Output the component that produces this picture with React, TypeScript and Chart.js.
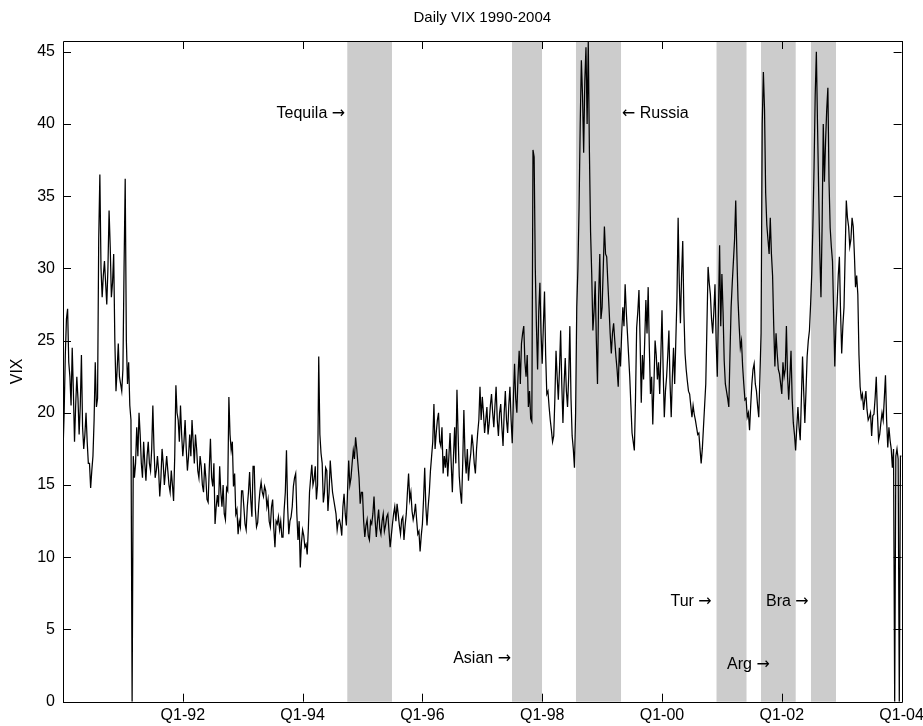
import React, { useEffect, useRef } from "react";
import { Chart, registerables } from "chart.js";

Chart.register(...registerables);

// ---- data (52 readings per year) ----
const years = [1990, 1991, 1992, 1993, 1994, 1995, 1996, 1997, 1998, 1999, 2000, 2001, 2002, 2003, 2004];
const stepsPerYear = 52;

const vix1990 = [17.3, 20, 24, 26.5, 27.2, 23.5, 22.5, 20.5, 24.5, 21.5, 18, 20.5, 22.5, 21, 18.5, 20.5, 24, 19, 17.5, 18.5, 20, 18, 16.5, 16.5, 14.8, 16, 17, 19.5, 23.5, 20.4, 21, 32, 36.5, 30, 28, 29.5, 30.5, 29, 27.5, 30, 34, 31.5, 28, 29, 31, 25, 21.5, 23, 24.8, 22.5, 22, 21.5];
const vix1991 = [23, 30, 36.2, 25, 22, 23.5, 20.5, 19.5, 0, 17, 15.5, 16.5, 19, 17, 20, 18.5, 16.5, 15.5, 18, 16.5, 15.3, 17, 18, 16.5, 16, 17.5, 20.5, 17.5, 15.5, 16, 17, 16, 14.2, 15.5, 17.5, 16.5, 15, 16, 17, 16, 15, 14.5, 16, 15, 13.9, 17, 21.9, 20, 19.5, 18, 20.5, 18.5];
const vix1992 = [17, 18, 19.5, 17.5, 16, 17, 18.5, 17, 19.5, 18, 16.5, 18.5, 17.5, 16, 15.5, 17, 16.3, 15, 14.5, 16.5, 15.5, 14, 13.8, 16.2, 18.2, 15.5, 14.9, 16.5, 12.3, 13.5, 14.3, 13.5, 16.3, 14.5, 13.5, 15, 13, 12.6, 14.8, 14.6, 21.1, 18.5, 17.4, 18, 14.9, 15.8, 13, 13.3, 11.6, 12.5, 12.1, 14.6];
const vix1993 = [14.6, 13.5, 12.3, 11.9, 13.5, 14.5, 15.9, 14, 12.8, 16.3, 16.3, 13.3, 12.1, 12.4, 13.7, 14.6, 15.2, 14.5, 14.2, 14.9, 14.6, 13.5, 14, 12.5, 12.1, 13.5, 14, 12, 10.7, 12.5, 12.3, 12.8, 11.9, 12.5, 11.4, 11.4, 13.3, 14.5, 17.4, 13.5, 11.6, 12.5, 12.8, 13.5, 14.9, 15.5, 15.8, 13, 11.2, 12.5, 9.3, 11];
const vix1994 = [11.9, 11.5, 10.7, 10.9, 10.2, 12, 14.5, 15.5, 16.4, 15, 15.4, 16.3, 14, 15, 23.9, 18.5, 17.2, 16.5, 13.8, 14.5, 16.2, 16, 13.2, 14.5, 16.7, 15.5, 14.5, 14, 13.5, 13, 11.9, 12.5, 12.6, 12.2, 11.5, 13.5, 14.4, 13, 12.2, 14.5, 16.7, 15, 15.5, 16.5, 17.4, 16.8, 18.3, 17.5, 16.5, 15.5, 13.7, 14.5];
const vix1995 = [14.5, 12.5, 11.4, 12.2, 12.6, 11.5, 11.2, 12.5, 12.3, 13, 14.2, 12.5, 11.4, 12.5, 13.3, 12, 11.6, 12.5, 13.0, 11.8, 12.2, 12.8, 13.0, 11.8, 10.7, 11.5, 12.3, 13, 13.5, 12.5, 13.7, 13, 12.2, 11.6, 12.6, 12.8, 11.2, 12.2, 13.0, 14.5, 15.8, 14, 14.5, 13.2, 12.6, 13, 13.7, 12.6, 11.6, 11.8, 10.4, 11.5];
const vix1996 = [12.3, 14, 16.2, 13.5, 12.2, 13.5, 14.5, 16, 17.0, 18, 20.6, 17.5, 18.6, 19.5, 20.0, 18, 17.7, 19, 15.8, 17, 16.2, 17.5, 15.6, 17, 18.6, 16.5, 14.5, 17, 19.0, 16.5, 21.6, 18.5, 15.6, 14.5, 13.7, 16.5, 20.2, 17, 15.8, 17.5, 15.3, 16.5, 17.2, 18.5, 17.7, 16.5, 15.8, 17.5, 18.6, 19.5, 21.8, 19.5];
const vix1997 = [21.1, 20, 18.6, 19.5, 20.4, 18.5, 19.3, 20.5, 21.3, 20, 19.0, 20.5, 21.8, 19.5, 18.4, 20, 20.6, 19, 17.7, 20, 21.5, 19.5, 18.6, 20.5, 21.8, 19.5, 17.9, 21, 23.4, 21, 20.0, 22.5, 24.3, 22, 24.8, 25.5, 26.0, 23.5, 22.5, 24, 20.4, 21.5, 19.6, 19.4, 38.2, 37.7, 30, 26, 23, 27, 29, 25.5];
const vix1998 = [23.4, 26, 28.4, 24, 21.3, 21.5, 20.4, 19.5, 18.8, 18, 18.4, 21, 24.3, 22.5, 20.9, 23, 25.7, 22, 19.3, 22, 23.8, 21.5, 20.4, 22.5, 26.0, 21, 18.4, 17.5, 16.2, 20, 27.3, 30, 34.2, 40, 44.4, 42, 38, 43, 45.3, 40, 45.74, 38, 32.5, 29.6, 25.7, 27, 29.1, 25, 22, 28, 31, 26.5];
const vix1999 = [27.3, 30, 32.9, 31, 30.8, 29, 27.3, 25.5, 24.1, 25.5, 26.2, 25, 23.9, 23, 21.8, 24.5, 23.2, 25.5, 27.3, 26, 28.9, 27, 25.5, 24, 22.5, 20.5, 18.6, 18, 17.4, 21, 25.9, 27, 28.5, 25, 20.7, 24, 22.3, 25, 27.8, 25.5, 28.7, 24.5, 21.3, 22.5, 19.2, 22, 25.0, 24, 22.3, 23.5, 21.3, 24];
const vix2000 = [27.1, 23, 19.7, 21.5, 22.5, 24, 25.7, 22, 19.7, 22.5, 24.5, 22, 25.0, 28, 33.5, 29, 26.2, 29.5, 31.9, 27, 24.1, 23, 22.2, 21.5, 21.3, 20.5, 19.7, 20.5, 19.9, 19.5, 19.0, 18.5, 18.6, 17.5, 16.5, 17.5, 19.0, 20.5, 22.0, 26, 30.1, 29, 28.2, 26.5, 25.5, 27, 28.9, 25, 22.5, 27, 31.6, 26];
const vix2001 = [29.6, 27, 23.6, 22, 21.5, 21, 20.4, 24, 27.3, 29, 30.5, 32, 34.7, 31, 27.8, 26, 24.5, 25, 23.2, 22, 20.9, 21, 19.7, 20, 18.8, 20.5, 22.0, 23, 23.4, 22, 21.5, 20.5, 19.7, 22.5, 25.5, 40, 43.6, 41, 35.2, 33, 32.0, 31, 33.5, 31, 29.5, 26, 23.2, 25.5, 24.1, 23, 22.7, 22];
const vix2002 = [21.3, 23.5, 22.5, 23, 26.0, 22.5, 20.9, 22.5, 24.3, 21, 19.3, 18.5, 17.4, 19, 20.4, 19, 18.1, 21, 23.9, 21.5, 19.3, 21.5, 23.9, 25, 25.7, 27.5, 29.6, 33, 37.0, 42, 45.0, 40, 35.4, 31, 28, 33, 40, 36, 38.8, 41, 42.5, 36, 32.8, 31.5, 30.5, 27, 23.2, 26, 27.5, 29.5, 30.8, 27];
const vix2003 = [24.1, 26, 27.3, 31, 34.7, 33.5, 32.9, 31.5, 32.0, 33.5, 32.9, 31, 28.7, 29.5, 28.2, 24, 21.8, 21, 21.3, 20.2, 20.9, 21.5, 20.2, 19.5, 19.7, 20, 18.4, 19.8, 19.9, 21, 22.5, 20, 18.1, 18.5, 19.3, 20, 19.5, 21, 22.6, 19.5, 17.6, 19, 18.1, 17.5, 16.2, 17.5, 0, 17, 17.5, 16.8, 0, 17];
const vix2004 = [17.0];
const vixByYear = [vix1990, vix1991, vix1992, vix1993, vix1994, vix1995, vix1996, vix1997, vix1998, vix1999, vix2000, vix2001, vix2002, vix2003, vix2004];

// crisis periods (decimal years)
const crisisStart = [1994.746, 1997.496, 1998.564, 2000.91, 2001.653, 2002.487];
const crisisEnd = [1995.492, 1997.997, 1999.316, 2001.411, 2002.232, 2002.905];

// annotations
const noteText = ["Tequila \u2192", "Asian \u2192", "\u2190 Russia", "Tur \u2192", "Arg \u2192", "Bra \u2192"];
const noteX = [1994.71, 1997.48, 1999.33, 2000.83, 2001.8, 2002.45];
const noteY = [40.7, 2.95, 40.7, 6.9, 2.54, 6.9];
const noteAlign = ["right", "right", "left", "right", "right", "right"];

const xTickYears = [1992, 1994, 1996, 1998, 2000, 2002, 2004];
const yTicks = [0, 5, 10, 15, 20, 25, 30, 35, 40, 45];
const titleText = "Daily VIX 1990-2004";
const yLabel = "VIX";

const FONT = "'Liberation Sans', Arial, Helvetica, sans-serif";
const ARROW_FONT = "'DejaVu Sans', sans-serif";

function drawNote(ctx: CanvasRenderingContext2D, text: string, x: number, y: number, align: string, size: number) {
  const parts: { t: string; f: string }[] = [];
  for (const ch of text) {
    const isArrow = ch === "\u2192" || ch === "\u2190";
    const f = isArrow ? `${size}px ${ARROW_FONT}` : `${size}px ${FONT}`;
    if (parts.length && parts[parts.length - 1].f === f) parts[parts.length - 1].t += ch;
    else parts.push({ t: ch, f });
  }
  let total = 0;
  const widths = parts.map((p) => {
    ctx.font = p.f;
    const w = ctx.measureText(p.t).width;
    total += w;
    return w;
  });
  let cx = align === "right" ? x - total : x;
  ctx.textAlign = "left";
  parts.forEach((p, i) => {
    ctx.font = p.f;
    ctx.fillText(p.t, cx, y);
    cx += widths[i];
  });
}

export default function App() {
  const ref = useRef<HTMLCanvasElement | null>(null);

  useEffect(() => {
    document.body.style.margin = "0";
    const canvas = ref.current;
    if (!canvas) return;

    const points: { x: number; y: number }[] = [];
    years.forEach((yr, k) => {
      vixByYear[k].forEach((v, i) => points.push({ x: yr + i / stepsPerYear, y: v }));
    });

    const framePlugin = {
      id: "matlabFrame",
      beforeDatasetsDraw(chart: any) {
        const { ctx, chartArea, scales } = chart;
        ctx.save();
        ctx.fillStyle = "#cccccc";
        crisisStart.forEach((s, i) => {
          const x0 = scales.x.getPixelForValue(s);
          const x1 = scales.x.getPixelForValue(crisisEnd[i]);
          ctx.fillRect(x0, chartArea.top, x1 - x0, chartArea.bottom - chartArea.top);
        });
        ctx.restore();
      },
      afterDatasetsDraw(chart: any) {
        const { ctx, chartArea, scales } = chart;
        const { left, right, top, bottom } = chartArea;
        ctx.save();
        ctx.strokeStyle = "#000";
        ctx.lineWidth = 1;
        ctx.beginPath();
        ctx.rect(Math.round(left) + 0.5, Math.round(top) + 0.5, Math.round(right - left), Math.round(bottom - top));
        ctx.stroke();
        const tl = 8;
        ctx.beginPath();
        yTicks.forEach((t) => {
          const y = Math.round(scales.y.getPixelForValue(t)) + 0.5;
          ctx.moveTo(left, y);
          ctx.lineTo(left + tl, y);
          ctx.moveTo(right, y);
          ctx.lineTo(right - tl, y);
        });
        xTickYears.forEach((t) => {
          const x = Math.round(scales.x.getPixelForValue(t)) + 0.5;
          ctx.moveTo(x, bottom);
          ctx.lineTo(x, bottom - tl);
          ctx.moveTo(x, top);
          ctx.lineTo(x, top + tl);
        });
        ctx.stroke();

        ctx.fillStyle = "#000";
        ctx.textBaseline = "middle";
        noteText.forEach((txt, i) => {
          drawNote(ctx, txt, scales.x.getPixelForValue(noteX[i]), scales.y.getPixelForValue(noteY[i]), noteAlign[i], 16);
        });

        ctx.textAlign = "center";
        ctx.font = `15px ${FONT}`;
        ctx.fillText(titleText, (left + right) / 2, 18);
        ctx.restore();
      },
    };

    const chart = new Chart(canvas, {
      type: "line",
      data: {
        datasets: [
          {
            data: points,
            borderColor: "#000",
            borderWidth: 1.25,
            pointRadius: 0,
            tension: 0,
            fill: false,
          },
        ],
      },
      options: {
        animation: false,
        responsive: false,
        devicePixelRatio: 1,
        events: [],
        layout: { padding: { top: 41, right: 21.4, left: 0, bottom: 0 } },
        plugins: {
          legend: { display: false },
          title: { display: false },
          tooltip: { enabled: false },
        },
        scales: {
          x: {
            type: "linear",
            min: 1990,
            max: 2004,
            grid: { display: false, drawTicks: false },
            border: { display: false },
            afterBuildTicks: (s: any) => {
              s.ticks = xTickYears.map((v) => ({ value: v }));
            },
            afterFit: (s: any) => {
              s.height = 24.3;
              s.paddingLeft = 0;
              s.paddingRight = 0;
            },
            ticks: {
              autoSkip: false,
              maxRotation: 0,
              padding: 4,
              color: "#000",
              font: { family: FONT, size: 16 },
              callback: (v: any) => "Q1-" + String(v).slice(2),
            },
          },
          y: {
            type: "linear",
            min: 0,
            max: 45.74,
            grid: { display: false, drawTicks: false },
            border: { display: false },
            afterBuildTicks: (s: any) => {
              s.ticks = yTicks.map((v) => ({ value: v }));
            },
            afterFit: (s: any) => {
              s.width = 63;
              s.paddingTop = 0;
              s.paddingBottom = 0;
            },
            title: {
              display: true,
              text: yLabel,
              color: "#000",
              font: { family: FONT, size: 16 },
              padding: { top: 8, bottom: 0 },
            },
            ticks: {
              padding: 8,
              color: "#000",
              font: { family: FONT, size: 16 },
            },
          },
        },
      },
      plugins: [framePlugin],
    });

    return () => chart.destroy();
  }, []);

  return (
    <div style={{ width: 923, height: 726 }}>
      <canvas ref={ref} width={923} height={726} style={{ display: "block" }} />
    </div>
  );
}
